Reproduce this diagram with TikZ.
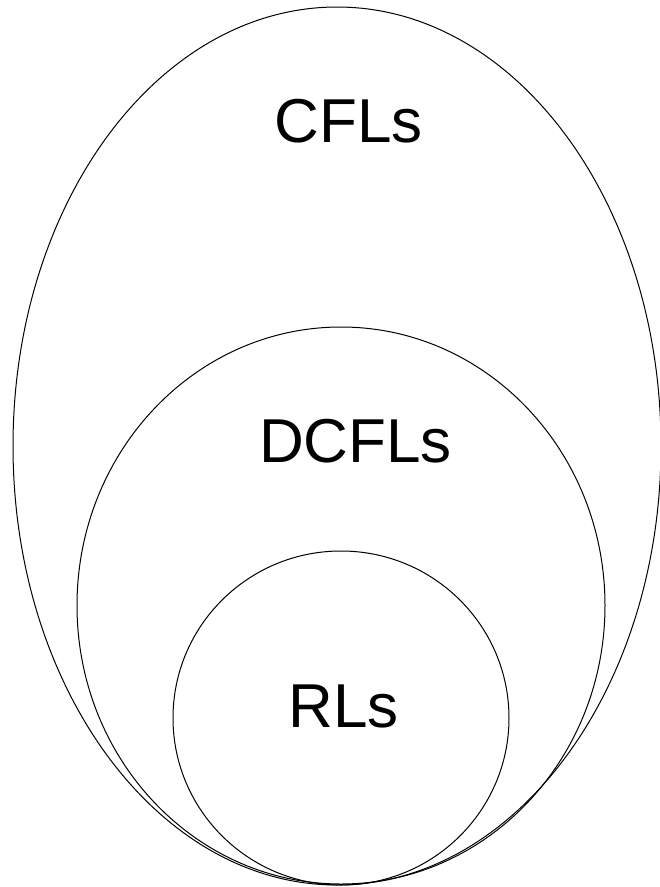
\documentclass[tikz,border=0pt]{standalone}
\usepackage{fontspec}
\setmainfont{Liberation Sans}
\begin{document}
\begin{tikzpicture}[x=1pt,y=-1pt,
  setline/.style={draw=black,line width=1pt},
  setlabel/.style={font=\fontsize{62}{62}\selectfont,anchor=base,inner sep=0pt}]
\useasboundingbox (0,0) rectangle (660,887);
\draw[setline] (337,446) ellipse [x radius=324, y radius=439];
\draw[setline] (341,605.5) ellipse [x radius=264, y radius=278.5];
\draw[setline] (341,718) ellipse [x radius=168, y radius=167];
\node[setlabel] (cfl) at (348.5,142) {CFLs};
\node[setlabel] (dcfl) at (355.5,462) {DCFLs};
\node[setlabel] (rl) at (343.5,727) {RLs};
\end{tikzpicture}
\end{document}
